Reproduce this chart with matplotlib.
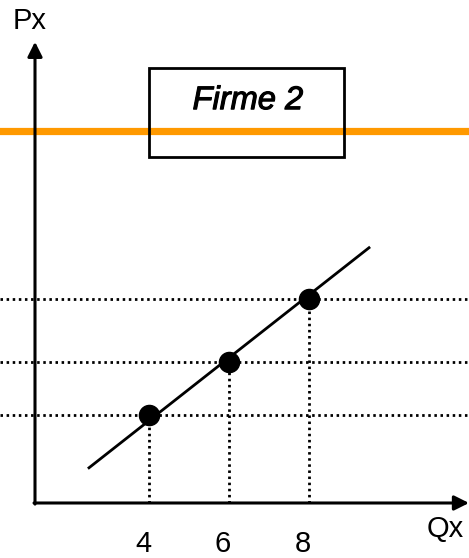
import matplotlib
matplotlib.use("Agg")
import matplotlib.pyplot as plt
import matplotlib.patheffects as pe
from matplotlib.patches import Rectangle

# data (Q in units, P in arbitrary price units)
qty = [4, 6, 8]
price = [2.0, 3.2, 4.63]
tick_labels = ["4", "6", "8"]
supply_q = [2.5, 9.5]
supply_p = [0.8, 5.8]
price_line = 8.45
title = "Firme 2"

plt.rcParams["font.family"] = ["Liberation Sans", "DejaVu Sans"]

fig = plt.figure(figsize=(4.69, 5.58), dpi=100)
ax = fig.add_axes([0, 0, 1, 1])
ax.set_xlim(0.275, 12.0)
ax.set_ylim(-1.25, 11.43)
ax.axis("off")

x0, y0 = 1.15, 0.0

# horizontal orange price line (under everything)
ax.axhline(price_line, color="#ff9900", lw=5.2, zorder=1)

# box with title
ax.add_patch(Rectangle((4.0, 7.86), 4.87, 2.03, fill=False, ec="black", lw=2.0, zorder=3))
ax.text(6.47, 8.95, title, fontsize=23.5, style="italic", ha="center", va="baseline", zorder=4,
        path_effects=[pe.withStroke(linewidth=0.8, foreground="black")])

# dotted guide lines
dots = dict(color="black", lw=2.0, ls=(0, (0.9, 1.3)), zorder=2)
for q, p in zip(qty, price):
    ax.axhline(p, **dots)
    ax.plot([q, q], [y0, p], **dots)

# supply line and points
ax.plot(supply_q, supply_p, color="black", lw=2.0, zorder=4)
ax.plot(qty, price, "o", color="black", ms=14.5, zorder=5)

# axes with arrows
arr = dict(arrowstyle="-|>", color="black", lw=2.2, mutation_scale=22, shrinkA=0, shrinkB=0)
ax.annotate("", xy=(12.0, y0), xytext=(x0 - 0.025, y0), arrowprops=arr, zorder=6)
ax.annotate("", xy=(x0, 10.48), xytext=(x0, y0 - 0.025), arrowprops=arr, zorder=6)

# labels
ax.text(1.01, 10.77, "Px", fontsize=21, ha="center", va="baseline")
ax.text(11.4, -0.78, "Qx", fontsize=21, ha="center", va="baseline")
for q, lab in zip(qty, tick_labels):
    ax.text(q - 0.15, -1.11, lab, fontsize=21, ha="center", va="baseline")

fig.savefig("out.png", dpi=100)
